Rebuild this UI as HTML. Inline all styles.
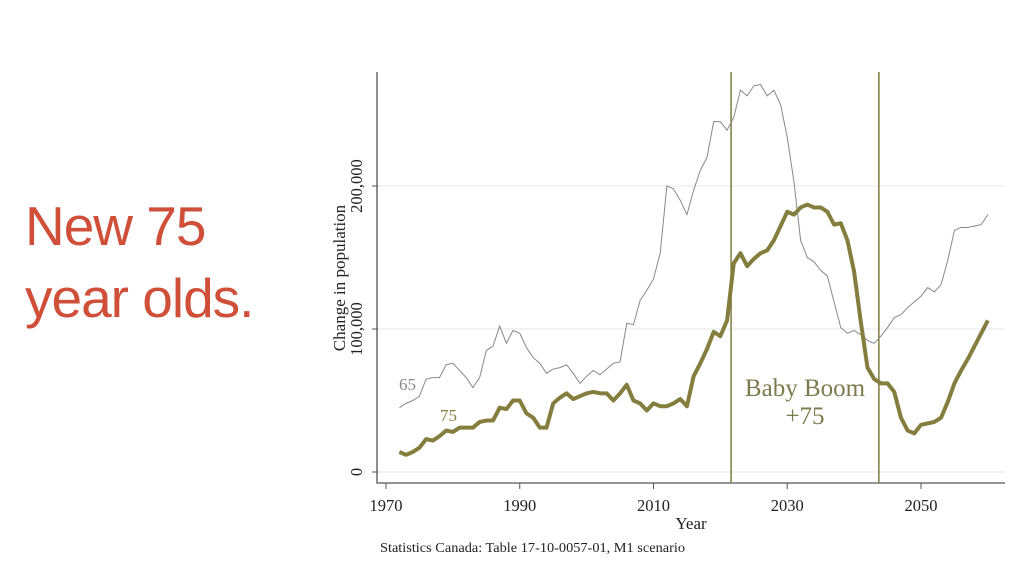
<!DOCTYPE html>
<html><head><meta charset="utf-8"><style>
body{margin:0;background:#fff;width:1024px;height:576px;overflow:hidden;font-family:"Liberation Serif",serif;}
#title{position:absolute;left:25px;top:190px;font-family:"Liberation Sans",sans-serif;font-size:55px;line-height:72px;color:#cf4f38;letter-spacing:-1px;}
svg{position:absolute;left:0;top:0;}
</style></head><body>
<div id="title">New 75<br>year olds.</div>
<svg id="chart" width="1024" height="576"></svg>
<script>
const years=[];for(let y=1972;y<=2060;y++)years.push(y);
const age75=[14,12,14,17,23,22,25,29,28,31,31,31,35,36,36,45,44,50,50,41,38,31,31,48,52,55,51,53,55,56,55,55,50,55,61,50,48,43,48,46,46,48,51,46,67,76,86,98,95,106,146,153,144,149,153,155,162,172,182,180,185,187,185,185,182,173,174,162,140,105,73,65,62,62,56,38,29,27,33,34,35,38,49,62,71,79,88,97,106];
const age65=[45,48,50,53,65,66,66,75,76,71,66,59,66,85,88,102,90,99,97,87,80,76,69,72,73,75,69,62,67,71,68,72,76,77,104,103,120,127,135,153,200,198,190,180,197,211,220,245,245,239,248,267,263,270,271,263,267,257,234,203,162,150,147,141,137,119,101,97,99,96,92,90,95,101,108,110,115,119,123,129,126,131,148,169,171,171,172,173,180];
const xTicks=[1970,1990,2010,2030,2050];
const yTicks=[0,100000,200000];
const yTickLabels=["0","100,000","200,000"];
const boomLines=[2021.6,2043.7];
const X=y=>386+(y-1970)*6.6875;
const Y=v=>472-v*1.43/1000;
const svg=document.getElementById('chart');
const NS='http://www.w3.org/2000/svg';
function mk(t,a,txt){const e=document.createElementNS(NS,t);for(const k in a)e.setAttribute(k,a[k]);if(txt!=null)e.textContent=txt;svg.appendChild(e);return e;}
yTicks.forEach((v,i)=>{
 const g=mk('line',{x1:378,x2:1005,y1:Y(v),y2:Y(v),stroke:'#eaeeee','stroke-width':1.2});
 
 
 const t=mk('line',{x1:372,x2:378,y1:Y(v),y2:Y(v),stroke:'#555'});
 
 
 const l=mk('text',{x:0,y:0,transform:`translate(362,${Y(v)}) rotate(-90)`,'text-anchor':'middle','font-size':16.5,fill:'#222'},yTickLabels[i]);
 
 
});
xTicks.forEach(v=>{
 const t=mk('line',{x1:X(v),x2:X(v),y1:483,y2:489,stroke:'#555'});
 
 
 const l=mk('text',{x:X(v),y:511,'text-anchor':'middle','font-size':16.5,fill:'#222'},String(v));
 
 
});
const ax=mk('path',{d:'M377,72 V483 H1005',fill:'none',stroke:'#555','stroke-width':1.3});


boomLines.forEach(v=>{
 const l=mk('line',{x1:X(v),x2:X(v),y1:72,y2:483,stroke:'#7d7a3e','stroke-width':1.5});
 
 
});
const p65=mk('polyline',{points:years.map((y,i)=>X(y)+','+Y(age65[i]*1000)).join(' '),fill:'none',stroke:'#888','stroke-width':1});


const p75=mk('polyline',{points:years.map((y,i)=>X(y)+','+Y(age75[i]*1000)).join(' '),fill:'none',stroke:'#857d3e','stroke-width':4,'stroke-linejoin':'round'});


const a=mk('text',{x:399,y:390,'font-size':17,fill:'#888'},'65');


const b=mk('text',{x:440,y:421,'font-size':17,fill:'#857d3e'},'75');


const c=mk('text',{x:805,y:396,'text-anchor':'middle','font-size':25,fill:'#7d7a4e'},'Baby Boom');


const d=mk('text',{x:805,y:424,'text-anchor':'middle','font-size':25,fill:'#7d7a4e'},'+75');


const yt=mk('text',{x:0,y:0,transform:'translate(345,278) rotate(-90)','text-anchor':'middle','font-size':17,fill:'#222'},'Change in population');


const xt=mk('text',{x:691,y:529,'text-anchor':'middle','font-size':17,fill:'#222'},'Year');


const s=mk('text',{x:380,y:552,'font-size':13.5,fill:'#222',textLength:305,lengthAdjust:'spacingAndGlyphs'},'Statistics Canada: Table 17-10-0057-01, M1 scenario');


</script>
</body></html>
